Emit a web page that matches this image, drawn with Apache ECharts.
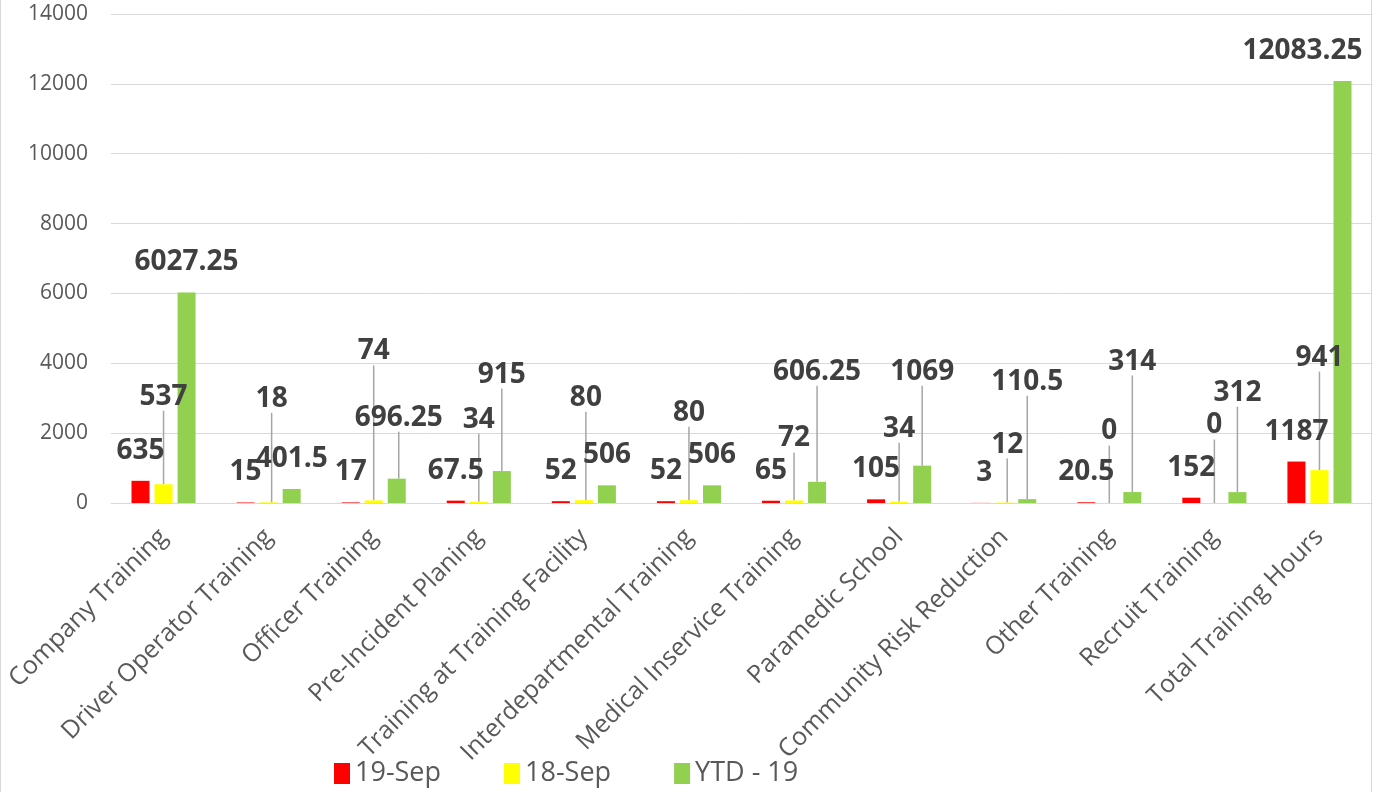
<!DOCTYPE html>
<html>
  <head>
    <meta charset="utf-8" />
    <title>Training Hours</title>
    <script src="https://cdn.jsdelivr.net/npm/echarts@6/dist/echarts.min.js"></script>
    <style>
      body { margin: 0; background: #ffffff; }
      #main { position: absolute; left: 0; top: 0; width: 1379px; height: 792px; }
      .edge { position: absolute; top: 0; width: 1px; height: 792px; background: #d9d9d9; }
    </style>
  </head>
  <body>
    <div id="main"></div>
    <div class="edge" style="left: 0"></div>
    <div class="edge" style="left: 1371px"></div>

    <script type="text/javascript">
      // categories + values
      var categories = [
        "Company Training",
        "Driver Operator Training",
        "Officer Training",
        "Pre-Incident Planing",
        "Training at Training Facility",
        "Interdepartmental Training",
        "Medical Inservice Training",
        "Paramedic School",
        "Community Risk Reduction",
        "Other Training",
        "Recruit Training",
        "Total Training Hours",
      ];
      var sep19 = [635, 15, 17, 67.5, 52, 52, 65, 105, 3, 20.5, 152, 1187];
      var sep18 = [537, 18, 74, 34, 80, 80, 72, 34, 12, 0, 0, 941];
      var ytd19 = [6027.25, 401.5, 696.25, 915, 506, 506, 606.25, 1069, 110.5, 314, 312, 12083.25];

      // label nudges (px): how far each label sits above / beside its default spot
      var liftSep19 = [0, 0, 0, 0, 0, 0, 0, 0, 0, 0, 0, 0];
      var liftSep18 = [57.5, 73.5, 119, 52, 72.5, 57.5, 32, 43, 28, 41.5, 47.5, 82.5];
      var liftYtd19 = [0, 0, 31, 66.5, 0, 0, 80, 64, 87.5, 100.5, 69.5, 0];
      var shiftSep19 = [0, 0, 0, 0, 0, 0, 0, 0, 3, 0, 0, 0];
      var shiftSep18 = [0, 3, 0, 0, 2, 0, 0, 0, 3, 0, 0, 0];
      var shiftYtd19 = [0, 0, 2, 0, 0, 0, 0, 0, 0, 0, 0, -40];
      var lifts = [liftSep19, liftSep18, liftYtd19];
      var shifts = [shiftSep19, shiftSep18, shiftYtd19];

      function withLines(values, lift) {
        var out = [];
        for (var i = 0; i < values.length; i++) {
          out.push({ value: values[i], labelLine: { show: lift[i] > 0 } });
        }
        return out;
      }

      var labelStyle = {
        show: true,
        position: "top",
        distance: 8,
        padding: [0, 0, 8, 0],
        fontFamily: "Open Sans",
        fontWeight: "bold",
        fontSize: 28,
        color: "#404040",
      };
      var lineStyle = {
        lineStyle: { color: "#a6a6a6", width: 1.5 },
      };

      var myChart = echarts.init(document.getElementById("main"));
      var option = {
        animation: false,
        textStyle: { fontFamily: "Open Sans" },
        grid: { left: 111, right: 7, top: 14, bottom: 289 },
        legend: {
          left: 329,
          top: 755,
          itemWidth: 16,
          itemHeight: 21,
          itemGap: 63,
          icon: "rect",
          textStyle: { fontSize: 27, color: "#595959", fontFamily: "Open Sans" },
          data: ["19-Sep", "18-Sep", "YTD - 19"],
        },
        xAxis: {
          type: "category",
          data: categories,
          axisLine: { lineStyle: { color: "#d9d9d9", width: 1 } },
          axisTick: { show: false },
          axisLabel: {
            interval: 0,
            rotate: 45,
            margin: 30,
            fontSize: 25,
            color: "#595959",
            fontFamily: "Open Sans",
          },
        },
        yAxis: {
          type: "value",
          min: 0,
          max: 14000,
          interval: 2000,
          axisLine: { show: false },
          axisTick: { show: false },
          splitLine: { lineStyle: { color: "#d9d9d9", width: 1 } },
          axisLabel: {
            fontSize: 21,
            color: "#595959",
            margin: 23,
            fontFamily: "Open Sans",
            formatter: function (v) { return String(v); },
          },
        },
        labelLayout: function (params) {
          var lift = lifts[params.seriesIndex][params.dataIndex];
          var shift = shifts[params.seriesIndex][params.dataIndex];
          return { dx: shift, dy: -lift };
        },
        series: [
          {
            name: "19-Sep",
            type: "bar",
            barWidth: 18,
            barGap: "28%",
            itemStyle: { color: "#ff0000" },
            label: labelStyle,
            labelLine: lineStyle,
            data: withLines(sep19, liftSep19),
          },
          {
            name: "18-Sep",
            type: "bar",
            barWidth: 18,
            barGap: "28%",
            itemStyle: { color: "#ffff00" },
            label: labelStyle,
            labelLine: lineStyle,
            data: withLines(sep18, liftSep18),
          },
          {
            name: "YTD - 19",
            type: "bar",
            barWidth: 18,
            barGap: "28%",
            itemStyle: { color: "#92d050" },
            label: labelStyle,
            labelLine: lineStyle,
            data: withLines(ytd19, liftYtd19),
          },
        ],
      };
      option && myChart.setOption(option);
    </script>
  </body>
</html>
